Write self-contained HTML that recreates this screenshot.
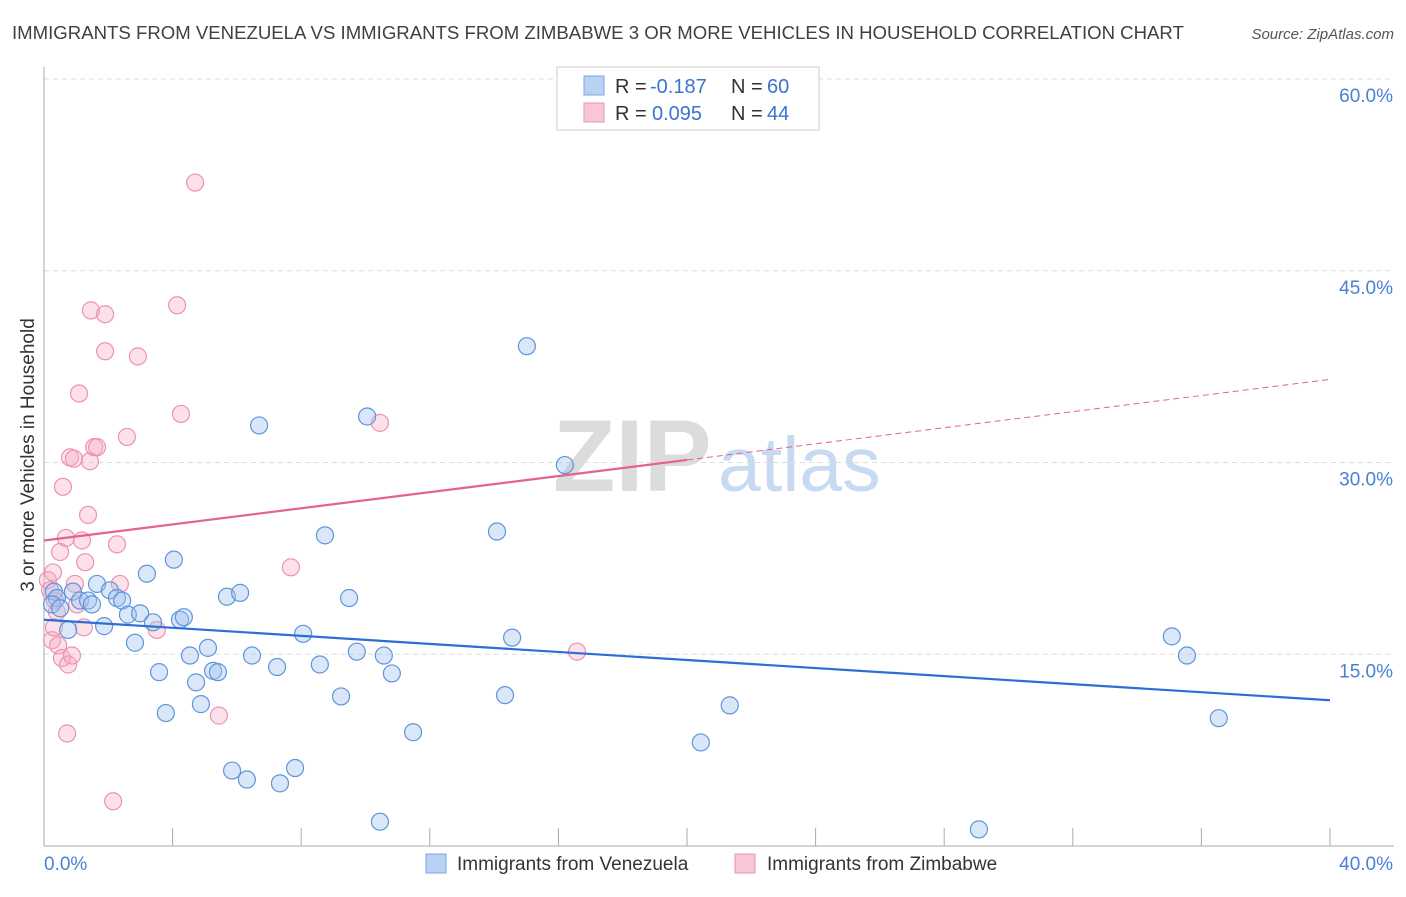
<!DOCTYPE html>
<html><head><meta charset="utf-8"><style>
body{margin:0;background:#fff;font-family:"Liberation Sans",sans-serif;}
svg text{font-family:"Liberation Sans",sans-serif;}
</style></head><body>
<svg id="chart" width="1406" height="892" xmlns="http://www.w3.org/2000/svg">
<text x="12" y="39" font-size="18.6" fill="#404040">IMMIGRANTS FROM VENEZUELA VS IMMIGRANTS FROM ZIMBABWE 3 OR MORE VEHICLES IN HOUSEHOLD CORRELATION CHART</text>
<text x="1394" y="39" font-size="15" fill="#555" font-style="italic" text-anchor="end">Source: ZipAtlas.com</text>
<g>
<text x="553" y="491" font-size="102" fill="#dcdcdc" font-family="Liberation Serif" font-weight="bold">ZIP</text>
<text x="718" y="491" font-size="77" fill="#c8daf2">atlas</text>
</g>
<g id="grid"></g>
<g id="axes"></g>
<g id="marks"></g>
<g id="lines"></g>
<g>
<rect x="557" y="67" width="262" height="63" fill="#fff" stroke="#ccc"/>
<rect x="584" y="76" width="20" height="19" fill="#b8d2f4" stroke="#7aa6de"/>
<rect x="584" y="103" width="20" height="19" fill="#f9c6d6" stroke="#e996b0"/>
<text x="615" y="93" font-size="20" fill="#333">R =</text>
<text x="650" y="93" font-size="20" fill="#3a73d0">-0.187</text>
<text x="731" y="93" font-size="20" fill="#333">N =</text>
<text x="767" y="93" font-size="20" fill="#3a73d0">60</text>
<text x="615" y="120" font-size="20" fill="#333">R =</text>
<text x="652" y="120" font-size="20" fill="#3a73d0">0.095</text>
<text x="731" y="120" font-size="20" fill="#333">N =</text>
<text x="767" y="120" font-size="20" fill="#3a73d0">44</text>
</g>
<g>
<rect x="426" y="854" width="20" height="19" fill="#b8d2f4" stroke="#7aa6de"/>
<text x="457" y="870" font-size="19" fill="#333">Immigrants from Venezuela</text>
<rect x="735" y="854" width="20" height="19" fill="#f9c6d6" stroke="#e996b0"/>
<text x="767" y="870" font-size="19" fill="#333">Immigrants from Zimbabwe</text>
</g>
<text transform="translate(34,455) rotate(-90)" font-size="19" fill="#333" text-anchor="middle">3 or more Vehicles in Household</text>
</svg>
<script>
const yTicks=[15,30,45,60];
const yTickLabels=["15.0%","30.0%","45.0%","60.0%"];
const xTicks=[0,4,8,12,16,20,24,28,32,36,40];
const venX=[0.31,0.40,0.25,0.50,0.75,0.90,1.12,1.37,1.49,1.65,1.87,2.05,2.27,2.43,2.61,2.83,2.99,3.20,3.39,3.58,3.79,4.04,4.23,4.35,4.54,4.73,4.88,5.10,5.26,5.41,5.69,5.85,6.10,6.31,6.47,6.69,7.25,7.34,7.81,8.06,8.58,8.74,9.24,9.49,9.73,10.05,10.45,10.57,10.82,11.48,14.09,14.34,14.56,15.02,16.20,20.43,21.33,29.08,35.08,35.55,36.54];
const venY=[19.9,19.4,18.9,18.6,16.9,19.9,19.2,19.2,18.9,20.5,17.2,20.0,19.4,19.2,18.1,15.9,18.2,21.3,17.5,13.6,10.4,22.4,17.7,17.9,14.9,12.8,11.1,15.5,13.7,13.6,19.5,5.9,19.8,5.2,14.9,32.9,14.0,4.9,6.1,16.6,14.2,24.3,11.7,19.4,15.2,33.6,1.9,14.9,13.5,8.9,24.6,11.8,16.3,39.1,29.8,8.1,11.0,1.3,16.4,14.9,10.0];
const zimX=[0.12,0.19,0.28,0.34,0.40,0.25,0.31,0.44,0.50,0.56,0.59,0.68,0.72,0.75,0.81,0.87,0.93,0.96,1.03,1.09,1.18,1.24,1.28,1.37,1.43,1.46,1.56,1.65,1.90,1.90,2.15,2.27,2.36,2.58,2.92,3.51,4.14,4.26,4.70,5.44,7.68,10.45,16.58];
const zimY=[20.8,20.0,21.4,19.2,18.3,16.1,17.1,15.7,23.0,14.7,28.1,24.1,8.8,14.2,30.4,14.9,30.3,20.5,18.9,35.4,23.9,17.1,22.2,25.9,30.1,41.9,31.2,31.2,41.6,38.7,3.5,23.6,20.5,32.0,38.3,16.9,42.3,33.8,51.9,10.2,21.8,33.1,15.2];
const venTrend=[17.7,11.4];
const zimTrend=[23.9,36.5];
const NS="http://www.w3.org/2000/svg";
const sx=v=>44+v*(1330-44)/40;
const sy=v=>846-v*(846-79)/60;
function mk(t,a,p){const e=document.createElementNS(NS,t);for(const k in a)e.setAttribute(k,a[k]);p.appendChild(e);return e;}
const grid=document.getElementById('grid'),axes=document.getElementById('axes'),marks=document.getElementById('marks'),lines=document.getElementById('lines');
yTicks.forEach((t,i)=>{
 const l=mk('line',{x1:44,x2:1394,y1:sy(t),y2:sy(t),stroke:'#ddd','stroke-dasharray':'5,4'},grid);
 
 
 const tx=mk('text',{x:1393,y:sy(t)+23,'font-size':19,fill:'#4a7fd4','text-anchor':'end'},axes);
 tx.textContent=yTickLabels[i];
 
 
});
mk('line',{x1:44,x2:44,y1:67,y2:846,stroke:'#aaa'},axes);
mk('line',{x1:44,x2:1394,y1:846,y2:846,stroke:'#aaa'},axes);
xTicks.forEach(t=>{const l=mk('line',{x1:sx(t),x2:sx(t),y1:828,y2:846,stroke:'#aaa'},axes);
 
 });
const xl0=mk('text',{x:44,y:870,'font-size':19,fill:'#4a7fd4'},axes);xl0.textContent='0.0%';


const xl1=mk('text',{x:1393,y:870,'font-size':19,fill:'#4a7fd4','text-anchor':'end'},axes);xl1.textContent='40.0%';


zimX.forEach((x,i)=>{const c=mk('circle',{cx:sx(x),cy:sy(zimY[i]),r:8.5,fill:'rgba(246,170,195,0.35)',stroke:'#ec93b0','stroke-width':1.2},marks);
 
 });
venX.forEach((x,i)=>{const c=mk('circle',{cx:sx(x),cy:sy(venY[i]),r:8.5,fill:'rgba(160,196,240,0.4)',stroke:'#5f95db','stroke-width':1.2},marks);
 
 });
const vl=mk('line',{x1:sx(0),y1:sy(venTrend[0]),x2:sx(40),y2:sy(venTrend[1]),stroke:'#2a6ed6','stroke-width':2.2},lines);


const zm=zimTrend[0]+(zimTrend[1]-zimTrend[0])*0.5;
const zl=mk('line',{x1:sx(0),y1:sy(zimTrend[0]),x2:sx(20),y2:sy(zm),stroke:'#e4628c','stroke-width':2.2},lines);


const zd=mk('line',{x1:sx(20),y1:sy(zm),x2:sx(40),y2:sy(zimTrend[1]),stroke:'#e4628c','stroke-width':1,'stroke-dasharray':'6,4'},lines);


</script>
</body></html>
